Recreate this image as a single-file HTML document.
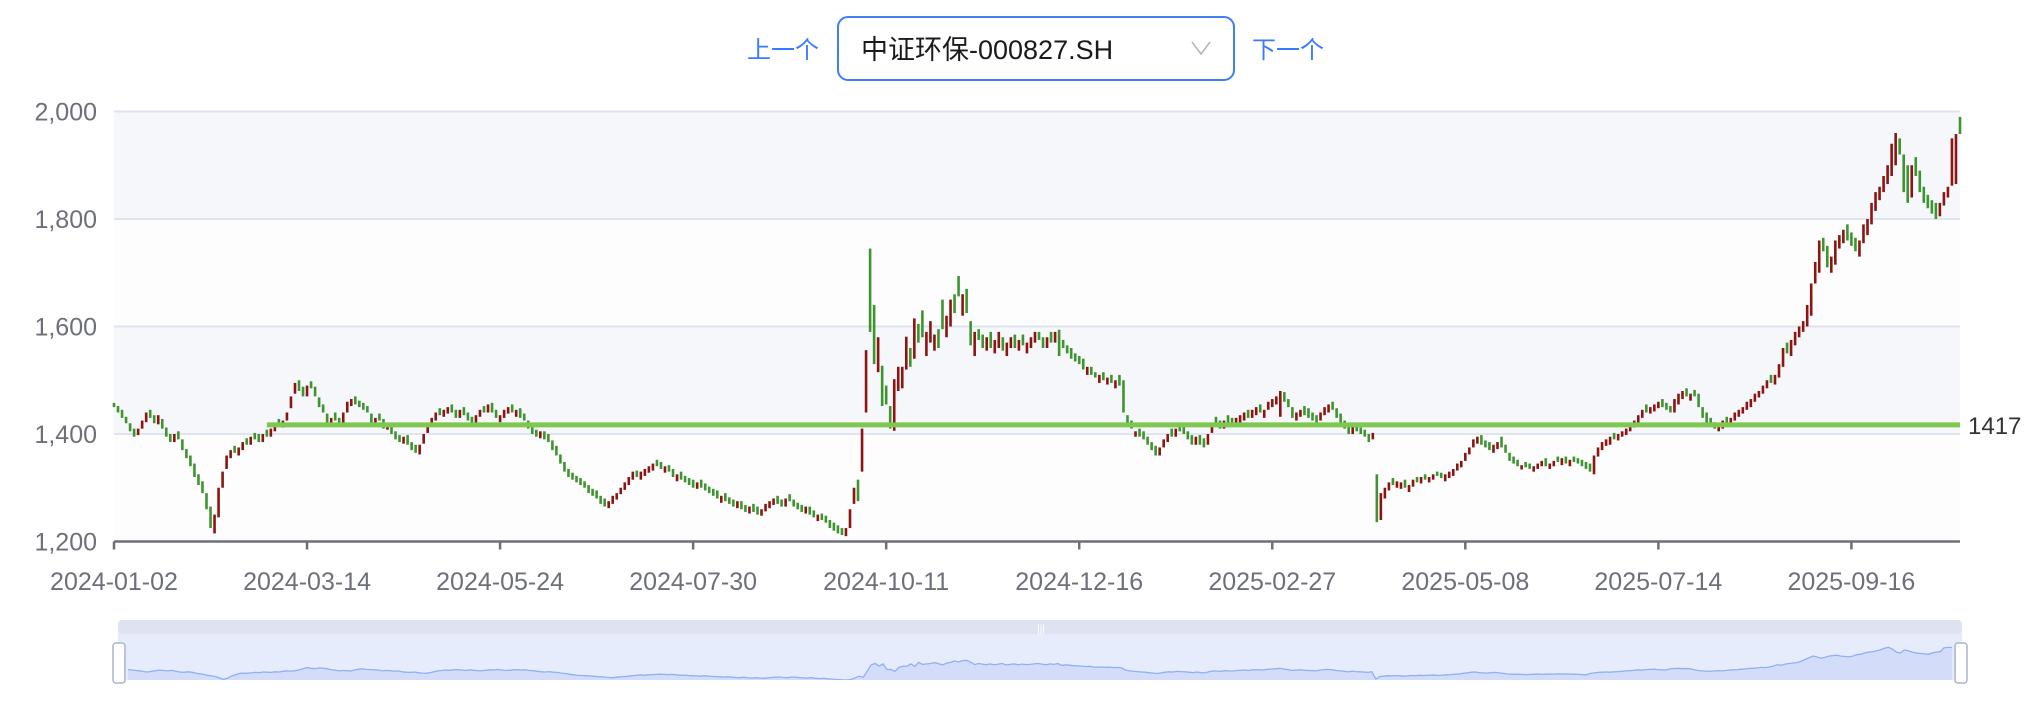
<!DOCTYPE html>
<html><head><meta charset="utf-8">
<style>
html,body{margin:0;padding:0;background:#fff;width:2040px;height:702px;overflow:hidden}
svg{display:block}
text{font-family:"Liberation Sans","Noto Sans CJK SC",sans-serif}
</style></head>
<body>
<svg id="chart" width="2040" height="702" viewBox="0 0 2040 702">
  <text x="747" y="58" font-size="24" fill="#3a7afe">上一个</text>
  <rect x="838" y="17" width="396" height="63" rx="10" fill="#fff" stroke="#3f7ef7" stroke-width="2"/>
  <text x="861" y="59" font-size="27" fill="#1a1a1a">中证环保-000827.SH</text>
  <path d="M1192,42 L1201,54 L1210,42" fill="none" stroke="#b8b8b8" stroke-width="1.6"/>
  <text x="1252" y="58" font-size="24" fill="#3a7afe">下一个</text>
  <g id="grid"></g>
  <g id="candles"></g>
  <g id="overlay"></g>
  <g id="zoom"></g>
</svg>
<script>
const yTicks=[1200,1400,1600,1800,2000];
const xTickLabels=["2024-01-02","2024-03-14","2024-05-24","2024-07-30","2024-10-11","2024-12-16","2025-02-27","2025-05-08","2025-07-14","2025-09-16"];
const xTickStep=48;
const refLevel=1417;
const refStart=38;
const closes=[1450,1440,1430,1420,1405,1395,1410,1425,1440,1430,
1420,1435,1410,1395,1385,1400,1390,1370,1355,1340,
1320,1305,1290,1260,1225,1250,1300,1330,1360,1370,
1365,1375,1385,1380,1395,1390,1385,1400,1395,1410,
1420,1415,1425,1440,1470,1495,1480,1470,1490,1485,
1470,1450,1440,1420,1430,1425,1415,1440,1460,1465,
1455,1450,1445,1440,1420,1430,1425,1410,1420,1400,
1390,1385,1395,1380,1370,1365,1380,1400,1420,1430,
1440,1435,1445,1450,1440,1430,1445,1435,1425,1420,
1435,1445,1440,1455,1440,1430,1435,1445,1450,1440,
1445,1430,1425,1410,1400,1395,1405,1390,1385,1370,
1360,1345,1330,1320,1315,1310,1305,1300,1290,1285,
1280,1270,1265,1275,1285,1290,1300,1310,1320,1330,
1320,1330,1335,1340,1345,1340,1335,1340,1330,1320,
1325,1315,1310,1305,1300,1310,1300,1295,1290,1285,
1280,1285,1275,1270,1265,1275,1260,1255,1265,1255,
1250,1260,1270,1275,1280,1270,1265,1280,1275,1265,
1260,1255,1265,1250,1245,1250,1240,1235,1225,1220,
1215,1212,1225,1260,1300,1275,1410,1556,1590,1530,
1580,1452,1455,1410,1502,1525,1525,1581,1525,1615,
1570,1580,1590,1610,1585,1560,1595,1620,1650,1625,
1656,1660,1625,1565,1590,1575,1560,1580,1560,1575,
1590,1555,1570,1580,1560,1575,1565,1570,1580,1590,
1575,1560,1580,1570,1590,1545,1560,1550,1540,1535,
1530,1520,1525,1510,1505,1510,1500,1505,1495,1500,
1490,1440,1420,1410,1405,1395,1390,1380,1370,1360,
1375,1390,1400,1395,1410,1405,1400,1390,1380,1395,
1380,1375,1400,1420,1415,1410,1425,1420,1415,1430,
1435,1440,1430,1445,1450,1440,1445,1460,1465,1470,
1480,1460,1450,1430,1440,1445,1435,1430,1425,1420,
1440,1450,1455,1445,1430,1420,1410,1400,1415,1405,
1400,1395,1385,1402,1236,1290,1300,1310,1305,1312,
1310,1300,1305,1315,1310,1320,1315,1320,1325,1322,
1318,1325,1330,1335,1345,1350,1365,1375,1390,1395,
1380,1375,1370,1380,1385,1375,1365,1350,1345,1340,
1342,1338,1335,1340,1345,1350,1340,1345,1350,1348,
1355,1345,1352,1348,1345,1340,1335,1330,1360,1375,
1385,1390,1395,1390,1400,1405,1410,1420,1425,1435,
1445,1440,1450,1455,1460,1450,1445,1440,1465,1475,
1480,1470,1475,1470,1450,1430,1420,1415,1410,1418,
1425,1420,1430,1440,1445,1450,1460,1465,1475,1480,
1490,1500,1495,1510,1530,1560,1550,1575,1590,1600,
1610,1640,1680,1720,1760,1740,1710,1730,1760,1770,
1780,1760,1750,1740,1760,1790,1800,1830,1850,1860,
1880,1900,1940,1960,1920,1850,1830,1900,1880,1850,
1830,1820,1810,1800,1830,1850,1860,1950,1958,1958];
const opens=[1458,1452,1445,1432,1420,1410,1398,1410,1422,1445,
1435,1418,1428,1412,1400,1385,1405,1390,1372,1360,
1345,1325,1312,1290,1265,1215,1245,1300,1335,1355,
1378,1360,1370,1392,1380,1402,1400,1385,1408,1395,
1405,1428,1412,1425,1448,1475,1500,1488,1470,1498,
1488,1468,1455,1438,1418,1440,1430,1418,1440,1452,
1470,1462,1458,1452,1438,1418,1438,1428,1408,1418,
1405,1398,1382,1398,1385,1380,1362,1382,1402,1418,
1425,1448,1432,1438,1455,1445,1430,1450,1440,1432,
1420,1432,1452,1440,1458,1445,1422,1430,1438,1455,
1432,1448,1438,1425,1415,1408,1392,1405,1400,1388,
1378,1362,1348,1335,1328,1322,1318,1312,1305,1298,
1295,1285,1280,1262,1270,1278,1288,1296,1305,1315,
1332,1315,1322,1328,1332,1352,1348,1328,1342,1335,
1312,1330,1322,1318,1315,1298,1315,1308,1302,1298,
1295,1272,1290,1282,1278,1262,1275,1268,1252,1270,
1265,1248,1256,1262,1268,1285,1278,1265,1288,1278,
1272,1268,1252,1265,1258,1238,1252,1248,1240,1235,
1230,1225,1210,1225,1270,1315,1330,1440,1745,1640,
1515,1527,1490,1452,1406,1480,1485,1520,1560,1540,
1605,1630,1545,1570,1555,1595,1650,1580,1600,1660,
1694,1620,1670,1610,1545,1595,1585,1555,1590,1550,
1560,1580,1545,1560,1585,1555,1585,1550,1560,1570,
1590,1580,1560,1590,1570,1594,1575,1565,1560,1550,
1545,1540,1510,1525,1515,1495,1515,1492,1510,1485,
1510,1500,1435,1425,1395,1410,1405,1395,1385,1378,
1360,1375,1385,1410,1395,1420,1415,1405,1398,1380,
1398,1392,1380,1402,1432,1425,1410,1435,1430,1415,
1420,1425,1445,1430,1435,1455,1430,1445,1450,1455,
1432,1478,1465,1450,1425,1432,1452,1448,1440,1435,
1425,1435,1440,1460,1448,1438,1425,1415,1400,1418,
1412,1408,1400,1390,1325,1240,1280,1295,1318,1300,
1298,1315,1292,1302,1320,1308,1325,1310,1315,1330,
1328,1312,1318,1322,1332,1338,1350,1362,1375,1382,
1398,1388,1385,1365,1372,1395,1380,1365,1358,1352,
1334,1348,1345,1330,1335,1340,1355,1335,1340,1358,
1342,1358,1340,1358,1355,1352,1348,1345,1325,1358,
1370,1378,1380,1402,1388,1395,1398,1405,1412,1420,
1430,1455,1438,1442,1448,1465,1458,1452,1440,1455,
1465,1485,1462,1482,1475,1450,1440,1430,1422,1405,
1410,1432,1415,1425,1432,1438,1445,1450,1460,1468,
1475,1485,1510,1492,1505,1525,1570,1545,1565,1580,
1590,1600,1620,1680,1700,1765,1750,1700,1715,1745,
1755,1790,1775,1765,1730,1755,1770,1790,1815,1835,
1850,1865,1880,1900,1950,1920,1900,1840,1915,1890,
1860,1845,1835,1830,1805,1825,1840,1862,1865,1990];

const NS='http://www.w3.org/2000/svg';
const X0=114, X1=1960, YB=541.5, YT=111.5, VMIN=1200, VMAX=2000;
const n=closes.length;
const step=(X1-X0)/(n-1);
function xOf(i){return X0+i*step;}
function yOf(v){return YB-(v-VMIN)/(VMAX-VMIN)*(YB-YT);}
function mk(tag,attrs,parent){const e=document.createElementNS(NS,tag);for(const k in attrs)e.setAttribute(k,attrs[k]);parent.appendChild(e);return e;}

const grid=document.getElementById('grid');
for(let k=0;k<yTicks.length-1;k++){
  const b=mk('rect',{x:X0,y:yOf(yTicks[k+1]),width:X1-X0,height:yOf(yTicks[k])-yOf(yTicks[k+1]),fill:(k%2===1)?'#f6f7fb':'#fdfdfe'},grid);
  
  
}
yTicks.forEach(v=>{
  if(v!==VMIN){
    const l=mk('line',{x1:X0,x2:X1,y1:yOf(v),y2:yOf(v),stroke:'#e0e4ef','stroke-width':2},grid);
    
    
  }
  const t=mk('text',{x:97,y:yOf(v)+9,'font-size':25,fill:'#6e7079','text-anchor':'end'},grid);
  t.textContent=v.toLocaleString('en-US');
  
  
});
const ax=mk('line',{x1:X0,x2:X1,y1:YB,y2:YB,stroke:'#6e7079','stroke-width':2.5},grid);


xTickLabels.forEach((lab,k)=>{
  const x=xOf(k*xTickStep);
  const tk=mk('line',{x1:x,x2:x,y1:YB,y2:YB+8,stroke:'#6e7079','stroke-width':2.5},grid);
  
  
  const t=mk('text',{x:x,y:590,'font-size':25,fill:'#6e7079','text-anchor':'middle'},grid);
  t.textContent=lab;
  
  
});

const cg=document.getElementById('candles');
for(let i=0;i<n;i++){
  const o=opens[i],c=closes[i];
  const up=c>=o;
  const y1=yOf(Math.max(o,c)),y2=yOf(Math.min(o,c));
  const r=mk('rect',{x:xOf(i)-1.3,y:y1,width:2.6,height:Math.max(1,y2-y1),fill:up?'#8b1510':'#3e9530'},cg);
  
  
}

const ov=document.getElementById('overlay');
const rl=mk('line',{x1:xOf(refStart),x2:X1,y1:yOf(refLevel),y2:yOf(refLevel),stroke:'#7ec850','stroke-width':5},ov);


const rt=mk('text',{x:1968,y:yOf(refLevel)+9,'font-size':24,fill:'#333'},ov);
rt.textContent=String(refLevel);



const zg=document.getElementById('zoom');
const ZX0=118,ZX1=1962,ZT=634,ZB=680;
const zs=mk('rect',{x:ZX0,y:620,width:ZX1-ZX0,height:15,rx:4,fill:'#dfe3f1'},zg);


const zb=mk('rect',{x:ZX0,y:ZT,width:ZX1-ZX0,height:ZB-ZT,fill:'#e6ecfc'},zg);


function zy(v){return 680-(v-1212)*(34/778);}
function zx(i){return ZX0+10+i*(ZX1-ZX0-20)/(n-1);}
let d='M'+zx(0)+','+zy(closes[0]);
for(let i=1;i<n;i++)d+=' L'+zx(i).toFixed(1)+','+zy(closes[i]).toFixed(1);
const za=mk('path',{d:d+' L'+zx(n-1)+','+(ZB+5)+' L'+zx(0)+','+(ZB+5)+' Z',fill:'#d3ddfa'},zg);


const zl=mk('path',{d:d,fill:'none',stroke:'#8fb0f5','stroke-width':1.3},zg);


const wm=mk('rect',{x:0,y:ZB,width:2040,height:22,fill:'#fff'},zg);


[113,1955].forEach((hx,k)=>{
  const h=mk('rect',{x:hx,y:643,width:12,height:40,rx:3,fill:'#fff',stroke:'#aab4c8','stroke-width':1.5},zg);
  
  
});
const grip=mk('text',{x:1041,y:632,'font-size':10,fill:'#fff','text-anchor':'middle'},zg);
grip.textContent='|||';


</script>
</body></html>
